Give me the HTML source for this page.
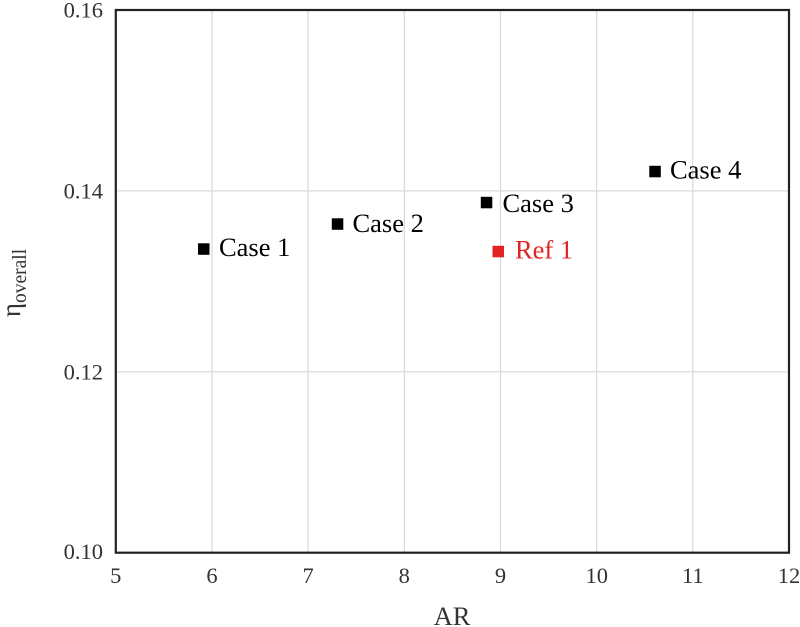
<!DOCTYPE html>
<html><head><meta charset="utf-8"><style>
html,body{margin:0;padding:0;background:#fff;}
svg{display:block;}
text{font-family:"Liberation Serif","Times New Roman",serif;}
</style></head><body>
<svg width="800" height="627" viewBox="0 0 800 627" xmlns="http://www.w3.org/2000/svg">
<rect x="0" y="0" width="800" height="627" fill="#fff"/>
<g stroke="#d9d9d9" stroke-width="1.2">
<line x1="212" y1="10" x2="212" y2="553"/>
<line x1="308.1" y1="10" x2="308.1" y2="553"/>
<line x1="404.3" y1="10" x2="404.3" y2="553"/>
<line x1="500.5" y1="10" x2="500.5" y2="553"/>
<line x1="596.7" y1="10" x2="596.7" y2="553"/>
<line x1="692.8" y1="10" x2="692.8" y2="553"/>
<line x1="116" y1="190.9" x2="789" y2="190.9"/>
<line x1="116" y1="371.8" x2="789" y2="371.8"/>
</g>
<rect x="115.8" y="10" width="673.2" height="542.7" fill="none" stroke="#222" stroke-width="2.2"/>
<g font-size="22.5" fill="#333" text-anchor="end">
<text x="103" y="17.5">0.16</text>
<text x="103" y="198.5">0.14</text>
<text x="103" y="379.5">0.12</text>
<text x="103" y="559">0.10</text>
</g>
<g font-size="22.5" fill="#333" text-anchor="middle">
<text x="115.8" y="583">5</text>
<text x="212" y="583">6</text>
<text x="308.1" y="583">7</text>
<text x="404.3" y="583">8</text>
<text x="500.5" y="583">9</text>
<text x="596.7" y="583">10</text>
<text x="692.8" y="583">11</text>
<text x="789" y="583">12</text>
</g>
<text x="452" y="625" font-size="26.5" fill="#333" text-anchor="middle">AR</text>
<text transform="translate(20,283) rotate(-90)" font-size="27" fill="#333" text-anchor="middle">η<tspan font-size="19.5" dy="6">overall</tspan></text>
<g fill="#000">
<rect x="198" y="243.3" width="11.5" height="11.5"/>
<rect x="331.8" y="218.3" width="11.5" height="11.5"/>
<rect x="480.8" y="196.8" width="11.5" height="11.5"/>
<rect x="649.3" y="165.8" width="11.5" height="11.5"/>
</g>
<rect x="492.5" y="245.8" width="11.5" height="11.5" fill="#e32222"/>
<g font-size="26.5" fill="#000">
<text x="219" y="256">Case 1</text>
<text x="352.5" y="232">Case 2</text>
<text x="502.5" y="212">Case 3</text>
<text x="670" y="178.5">Case 4</text>
</g>
<text x="515" y="258.5" font-size="26.5" fill="#e32222">Ref 1</text>
</svg>
</body></html>
